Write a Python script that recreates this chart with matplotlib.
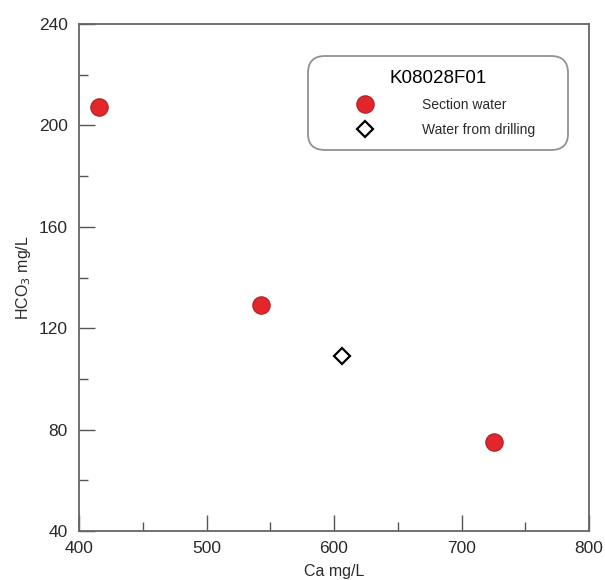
import matplotlib
matplotlib.use("Agg")
import matplotlib.pyplot as plt

plt.rcParams['font.family'] = ['Liberation Sans', 'DejaVu Sans']

# data
section_ca = [415.7, 542.7, 725.5]
section_hco3 = [207.3, 129.2, 75.1]
drill_ca = [606.3]
drill_hco3 = [109.0]

x_ticks = [400, 500, 600, 700, 800]
y_ticks = [40, 80, 120, 160, 200, 240]

fig = plt.figure(figsize=(6.05, 5.80), dpi=100)
ax = fig.add_axes([0.1306, 0.0845, 0.843, 0.874])

ax.plot(section_ca, section_hco3, 'o', ms=12.5, mfc='#e3262b', mec='#b01c1f',
        mew=0.8, ls='none', label='Section water', zorder=3)
ax.plot(drill_ca, drill_hco3, 'D', ms=8.5, mfc='white', mec='black',
        mew=1.6, ls='none', label='Water from drilling', zorder=3)

ax.set_xlim(400, 800)
ax.set_ylim(40, 240)
ax.set_xticks(x_ticks)
ax.set_yticks(y_ticks)
ax.set_xticks([450, 550, 650, 750], minor=True)
ax.set_yticks([60, 100, 140, 180, 220], minor=True)
ax.tick_params(which='major', direction='in', length=11.5, width=1.0,
               color='#555555', labelsize=12.5, labelcolor='#2a2a2a', pad=7)
ax.tick_params(which='minor', direction='in', length=6.5, width=1.0,
               color='#555555')
ax.tick_params(axis='y', which='major', pad=8)
for s in ax.spines.values():
    s.set_color('#666666')
    s.set_linewidth(1.3)

ax.set_xlabel('Ca mg/L', fontsize=11.5, color='#2a2a2a', labelpad=6)
ax.set_ylabel('HCO$_3$ mg/L', fontsize=11.5, color='#2a2a2a', labelpad=4)

leg = ax.legend(loc='upper left', bbox_to_anchor=(0.449, 0.751, 0.51, 0.186),
                mode='expand', title='K08028F01', title_fontsize=13.5,
                fontsize=10, handlelength=6.2, handletextpad=1.0,
                labelspacing=0.78, borderpad=1.0, borderaxespad=0,
                fancybox=True, frameon=True, numpoints=1)
leg.get_frame().set_edgecolor('#777777')
leg.get_frame().set_linewidth(1.3)
leg.get_frame().set_boxstyle('round', pad=0, rounding_size=1.2)
for t in leg.get_texts():
    t.set_color('#2a2a2a')

fig.savefig('out.png', dpi=100)
